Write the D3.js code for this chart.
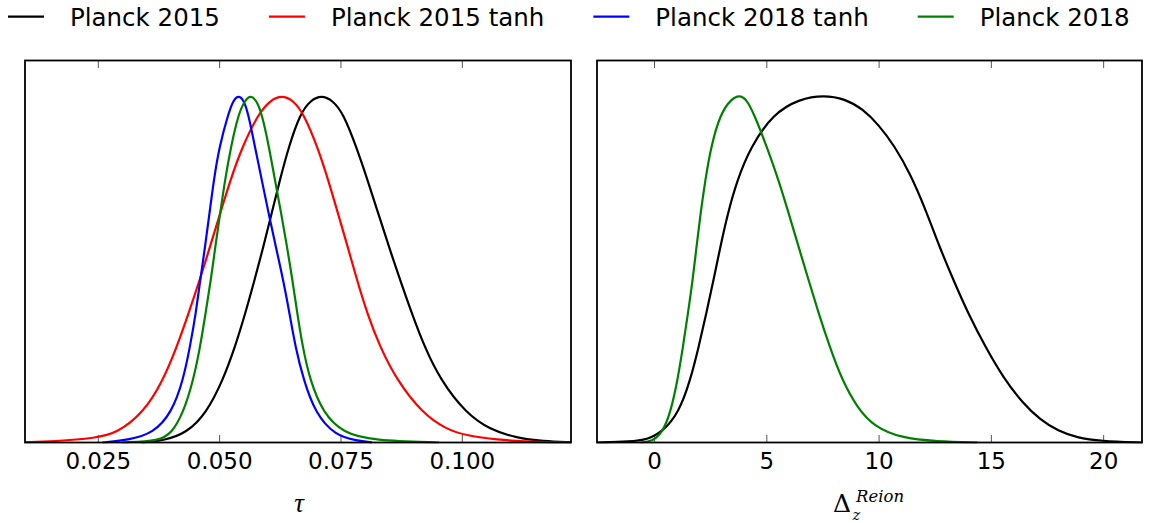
<!DOCTYPE html>
<html>
<head>
<meta charset="utf-8">
<script src="https://cdn.jsdelivr.net/npm/d3@7"></script>
<style>
  body { margin: 0; background: #ffffff; }
  svg { display: block; }
</style>
</head>
<body>
<svg id="chart" width="1152" height="523"></svg>
<script>
// Normalised posterior curves, [parameter value, relative probability]

// Optical depth tau
const tauPlanck2015 = [
  [0.0340, 0], [0.0385, 0.005], [0.0433, 0.027], [0.0474, 0.085], [0.0508, 0.18],
  [0.0533, 0.276], [0.0554, 0.372], [0.0573, 0.468], [0.0591, 0.563], [0.0608, 0.659],
  [0.0625, 0.755], [0.0643, 0.85], [0.0667, 0.947], [0.0688, 0.985], [0.0711, 1.0],
  [0.0734, 0.985], [0.0756, 0.947], [0.0783, 0.85], [0.0806, 0.755], [0.0828, 0.659],
  [0.0850, 0.563], [0.0873, 0.468], [0.0897, 0.372], [0.0923, 0.276], [0.0956, 0.18],
  [0.1008, 0.085], [0.1058, 0.037], [0.1113, 0.013], [0.1168, 0.004], [0.1225, 0.001]
];
const tauPlanck2015Tanh = [
  [0.0100, 0.001], [0.0158, 0.003], [0.0248, 0.013], [0.0289, 0.027], [0.0344, 0.085],
  [0.0385, 0.18], [0.0413, 0.276], [0.0437, 0.372], [0.0460, 0.468], [0.0481, 0.563],
  [0.0502, 0.659], [0.0523, 0.755], [0.0547, 0.85], [0.0581, 0.947], [0.0605, 0.985],
  [0.0629, 1.0], [0.0653, 0.985], [0.0674, 0.947], [0.0703, 0.85], [0.0725, 0.755],
  [0.0745, 0.659], [0.0765, 0.563], [0.0784, 0.468], [0.0805, 0.372], [0.0831, 0.276],
  [0.0866, 0.18], [0.0918, 0.085], [0.0969, 0.037], [0.1010, 0.02], [0.1072, 0.008],
  [0.1141, 0.002], [0.1225, 0]
];
const tauPlanck2018Tanh = [
  [0.0260, 0], [0.0316, 0.008], [0.0364, 0.027], [0.0402, 0.085], [0.0426, 0.18],
  [0.0440, 0.276], [0.0452, 0.372], [0.0461, 0.468], [0.0471, 0.563], [0.0480, 0.659],
  [0.0489, 0.755], [0.0500, 0.85], [0.0519, 0.947], [0.0529, 0.985], [0.0540, 1.0],
  [0.0551, 0.985], [0.0560, 0.947], [0.0574, 0.85], [0.0588, 0.755], [0.0602, 0.659],
  [0.0617, 0.563], [0.0632, 0.468], [0.0645, 0.372], [0.0657, 0.276], [0.0674, 0.18],
  [0.0698, 0.085], [0.0739, 0.02], [0.0784, 0.005], [0.0815, 0]
];
const tauPlanck2018 = [
  [0.0300, 0], [0.0378, 0.005], [0.0402, 0.027], [0.0426, 0.085], [0.0447, 0.18],
  [0.0461, 0.276], [0.0472, 0.372], [0.0483, 0.468], [0.0492, 0.563], [0.0502, 0.659],
  [0.0512, 0.755], [0.0524, 0.85], [0.0540, 0.947], [0.0553, 0.985], [0.0565, 1.0],
  [0.0577, 0.985], [0.0588, 0.947], [0.0603, 0.85], [0.0615, 0.755], [0.0628, 0.659],
  [0.0640, 0.563], [0.0651, 0.468], [0.0661, 0.372], [0.0672, 0.276], [0.0687, 0.18],
  [0.0714, 0.085], [0.0756, 0.027], [0.0817, 0.006], [0.0953, 0]
];

// Duration of reionization, Delta z
const dzPlanck2015 = [
  [-2.54, 0], [-1.05, 0.003], [-0.31, 0.008], [0.36, 0.03], [1.10, 0.085], [1.62, 0.18],
  [1.99, 0.276], [2.33, 0.372], [2.65, 0.468], [2.95, 0.563], [3.28, 0.659], [3.70, 0.755],
  [4.29, 0.85], [5.30, 0.947], [6.50, 0.99], [7.55, 1.0], [8.50, 0.99], [9.30, 0.96],
  [10.00, 0.915], [10.70, 0.855], [11.40, 0.775], [12.10, 0.67], [12.70, 0.565],
  [13.35, 0.465], [14.00, 0.37], [14.75, 0.276], [15.57, 0.185], [16.40, 0.115],
  [17.20, 0.065], [18.00, 0.033], [18.83, 0.014], [19.87, 0.004], [21.73, 0]
];
const dzPlanck2018 = [
  [-0.60, 0], [-0.09, 0.003], [0.36, 0.027], [0.73, 0.085], [1.05, 0.18], [1.29, 0.276],
  [1.51, 0.372], [1.72, 0.468], [1.89, 0.563], [2.07, 0.659], [2.28, 0.755], [2.53, 0.85],
  [2.95, 0.947], [3.45, 0.99], [3.80, 1.0], [4.10, 0.99], [4.45, 0.947], [5.03, 0.85],
  [5.55, 0.755], [6.00, 0.659], [6.44, 0.563], [6.88, 0.468], [7.33, 0.372], [7.82, 0.276],
  [8.37, 0.18], [9.05, 0.10], [9.80, 0.046], [11.00, 0.013], [12.60, 0.003], [14.40, 0]
];

const seriesNames = ["Planck 2015", "Planck 2015 tanh", "Planck 2018 tanh", "Planck 2018"];
const seriesColors = ["#000000", "#ff0000", "#0000ff", "#008000"];
const tauTicks = [0.025, 0.050, 0.075, 0.100];
const dzTicks = [0, 5, 10, 15, 20];
const tauDomain = [0.0100, 0.1225];
const dzDomain = [-2.54, 21.73];
const probDomain = [0, 1.1];

const svg = d3.select("#chart");
const plotTop = 60.5, plotBottom = 442.5;

const panels = [
  {
    id: "tau", left: 25, right: 571, domain: tauDomain, ticks: tauTicks,
    fmt: d3.format(".3f"),
    curves: [
      { data: tauPlanck2015, s: 0 },
      { data: tauPlanck2015Tanh, s: 1 },
      { data: tauPlanck2018Tanh, s: 2 },
      { data: tauPlanck2018, s: 3 }
    ]
  },
  {
    id: "dz", left: 597, right: 1142, domain: dzDomain, ticks: dzTicks,
    fmt: d3.format("d"),
    curves: [
      { data: dzPlanck2015, s: 0 },
      { data: dzPlanck2018, s: 3 }
    ]
  }
];

const y = d3.scaleLinear().domain(probDomain).range([plotBottom, plotTop]);

panels.forEach(p => {
  const x = d3.scaleLinear().domain(p.domain).range([p.left, p.right]);
  p.x = x;

  svg.append("clipPath").attr("id", "clip-" + p.id)
    .append("rect")
    .attr("x", p.left).attr("y", plotTop - 2)
    .attr("width", p.right - p.left).attr("height", plotBottom - plotTop + 3);

  // bottom ticks (inward) with labels
  const gB = svg.append("g")
    .attr("transform", `translate(0,${plotBottom})`)
    .call(d3.axisBottom(x).tickValues(p.ticks).tickFormat(p.fmt)
      .tickSizeInner(-7.5).tickSizeOuter(0).tickPadding(10.5));
  gB.select(".domain").remove();
  gB.selectAll("line").attr("stroke", "#555").attr("stroke-width", 1);
  gB.selectAll("text")
    .attr("font-family", "DejaVu Sans, sans-serif")
    .attr("font-size", 23).attr("fill", "#000");

  // top ticks (inward)
  const gT = svg.append("g")
    .attr("transform", `translate(0,${plotTop})`)
    .call(d3.axisTop(x).tickValues(p.ticks).tickFormat("")
      .tickSizeInner(-7.5).tickSizeOuter(0));
  gT.select(".domain").remove();
  gT.selectAll("line").attr("stroke", "#555").attr("stroke-width", 1);

  // curves
  const line = d3.line()
    .x(d => x(d[0]))
    .y(d => y(d[1]))
    .curve(d3.curveBasis);

  svg.append("g").attr("clip-path", `url(#clip-${p.id})`)
    .selectAll("path")
    .data(p.curves)
    .join("path")
    .attr("d", c => line(c.data))
    .attr("fill", "none")
    .attr("stroke", c => seriesColors[c.s])
    .attr("stroke-width", 2.2)
    .attr("stroke-linejoin", "round");

  // frame
  svg.append("rect")
    .attr("x", p.left).attr("y", plotTop)
    .attr("width", p.right - p.left).attr("height", plotBottom - plotTop)
    .attr("fill", "none").attr("stroke", "#000").attr("stroke-width", 1.8);
});

// x-axis titles
const tauP = panels[0];
svg.append("text")
  .attr("x", (tauP.left + tauP.right) / 2 + 1)
  .attr("y", 512)
  .attr("text-anchor", "middle")
  .attr("font-family", "Liberation Serif, DejaVu Serif, serif")
  .attr("font-style", "italic")
  .attr("font-size", 27)
  .text("τ");

const dzP = panels[1];
const dzTitle = svg.append("g");
const delta = dzTitle.append("text")
  .attr("x", 0).attr("y", 511.5)
  .attr("font-family", "DejaVu Serif, serif")
  .attr("font-size", 25)
  .text("Δ");
const dW = delta.node().getComputedTextLength();
const sup = dzTitle.append("text")
  .attr("x", dW + 5).attr("y", 501.5)
  .attr("font-family", "DejaVu Serif, serif")
  .attr("font-style", "italic")
  .attr("font-size", 16.5)
  .text("Reion");
dzTitle.append("text")
  .attr("x", dW + 1.5).attr("y", 519.5)
  .attr("font-family", "DejaVu Serif, serif")
  .attr("font-style", "italic")
  .attr("font-size", 14.5)
  .text("z");
const totalW = dW + 5 + sup.node().getComputedTextLength();
dzTitle.attr("transform", `translate(${(dzP.left + dzP.right) / 2 - totalW / 2 - 1},0)`);

// legend across the top
const legend = svg.append("g");
let cursor = 8;
seriesNames.forEach((name, i) => {
  const item = legend.append("g");
  item.append("line")
    .attr("x1", cursor).attr("x2", cursor + 36)
    .attr("y1", 16.7).attr("y2", 16.7)
    .attr("stroke", seriesColors[i]).attr("stroke-width", 2.2);
  const t = item.append("text")
    .attr("x", cursor + 62).attr("y", 26.3)
    .attr("font-family", "DejaVu Sans, sans-serif")
    .attr("font-size", 24.5)
    .attr("fill", "#000")
    .text(name);
  cursor += 62 + t.node().getComputedTextLength() + 49;
});
</script>
</body>
</html>
